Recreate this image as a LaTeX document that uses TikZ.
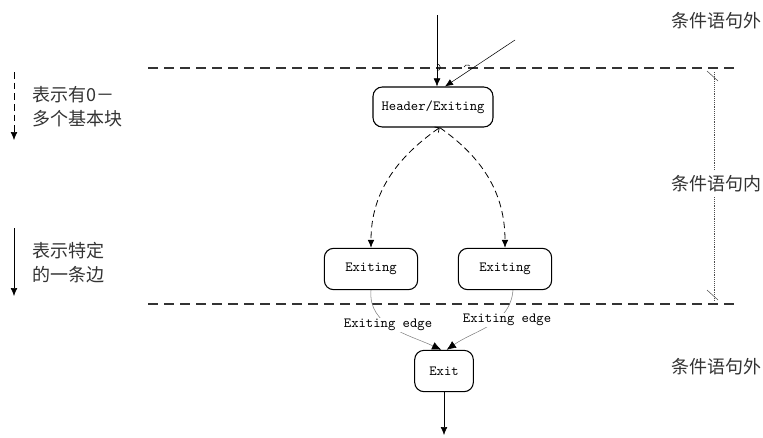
\documentclass[tikz,border=0pt]{standalone}
\usepackage{fontspec}
\newfontfamily\cjk{Noto Sans CJK SC}
\usetikzlibrary{arrows.meta}

\begin{document}
\begin{tikzpicture}[x=0.75pt,y=-0.75pt,
            blk/.style={shape=rectangle, rounded corners=7pt, draw, thick, font=\ttfamily\fontsize{10.5}{12}\selectfont, inner sep=0pt},
            lbl/.style={font=\cjk\fontsize{13.5}{18}\selectfont, text=black!80, align=left},
            edgelbl/.style={font=\ttfamily\fontsize{10.5}{12}\selectfont, fill=white, inner sep=1pt},
            bound/.style={dash pattern=on 7.5pt off 4.5pt, thick, black!80},
            inside/.style={dash pattern=on 5pt off 3pt, semithick},
            >={Latex[length=6pt,width=5pt]}]
        \useasboundingbox (0,0) rectangle (763,437);

        % blocks
        \node[blk, minimum width=90pt, minimum height=30pt] (hdr) at (433,107) {Header/Exiting};
        \node[blk, minimum width=70pt, minimum height=31pt] (exa) at (371,269) {Exiting};
        \node[blk, minimum width=70pt, minimum height=31pt] (exb) at (505,269) {Exiting};
        \node[blk, minimum width=44pt, minimum height=31pt] (ext) at (444,371) {Exit};

        % region borders
        \draw[bound] (148,68) -- (740,68);
        \draw[bound] (148,304) -- (740,304);

        % edges into the header
        \coordinate (in1) at (437,15);
        \coordinate (in2) at (515,40);
        \draw[->] (in1) -- ([xshift=3pt]hdr.north);
        \draw[->] (in2) -- ([xshift=9pt]hdr.north);
        \draw (437,64) arc[start angle=90, end angle=-90, radius=2.5pt];
        \draw (464,67) arc[start angle=160, end angle=40, radius=2.5pt];

        % blocks inside
        \draw[inside, {Straight Barb[length=2.5pt,width=5pt]}->] ([xshift=5pt]hdr.south) to[out=-145,in=90] (exa.north);
        \draw[inside, ->] ([xshift=5pt]hdr.south) to[out=-35,in=90] (exb.north);

        % exiting edges
        \draw[gray, -{Latex[length=7pt,width=6pt,black]}] (exa.south) to[out=-95,in=155] ([xshift=-2pt]ext.north);
        \draw[gray, -{Latex[length=7pt,width=6pt,black]}] ([xshift=6pt]exb.south) to[out=-95,in=35] ([xshift=2pt]ext.north);
        \node[edgelbl] (ela) at (388,325) {Exiting edge};
        \node[edgelbl] (elb) at (507,320) {Exiting edge};

        \coordinate (out) at (444,435);
        \draw[->] (ext.south) -- (out);

        % legend
        \coordinate (la1) at (14,72);
        \coordinate (la2) at (14,140);
        \draw[dash pattern=on 5pt off 3pt, ->] (la1) -- (la2);
        \node[lbl, anchor=west] (lga) at (28,107) {表示有0－\\多个基本块};
        \coordinate (lb1) at (14,228);
        \coordinate (lb2) at (14,296);
        \draw[->] (lb1) -- (lb2);
        \node[lbl, anchor=west] (lgb) at (28,263) {表示特定\\的一条边};

        % regions
        \draw[densely dotted, black!70] (714,72) -- (714,300);
        \draw[black!70] (707,71) -- (718,81);
        \draw[black!70] (707,290) -- (718,300);
        \node[lbl] (out1) at (716,21) {条件语句外};
        \node[lbl, fill=white] (inr) at (716,184) {条件语句内};
        \node[lbl] (out2) at (716,367) {条件语句外};
    \end{tikzpicture}
\end{document}
